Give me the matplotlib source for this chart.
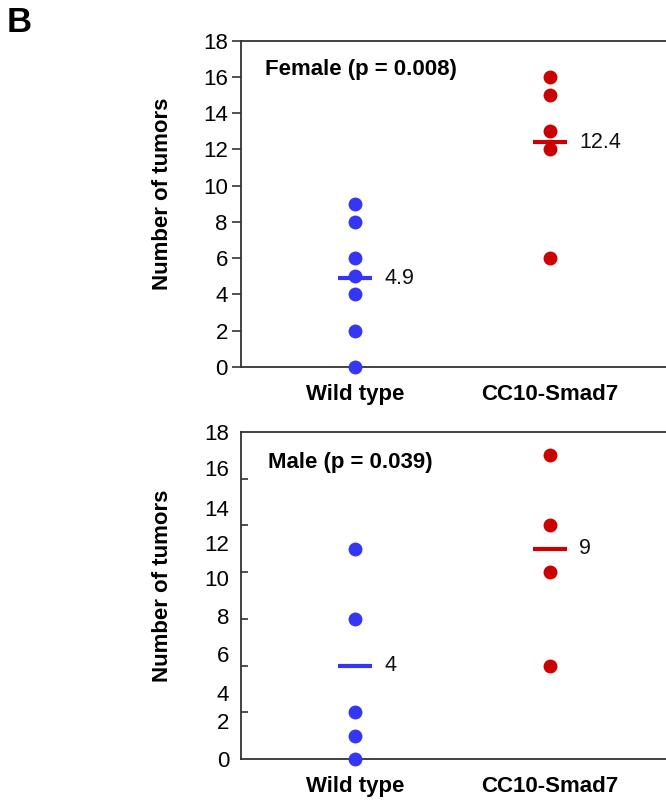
import matplotlib
matplotlib.use("Agg")
import matplotlib.pyplot as plt
import numpy as np

plt.rcParams['font.family'] = ['Liberation Sans', 'DejaVu Sans']

groups = ["Wild type", "CC10-Smad7"]

# Female panel
female_wt = [0, 2, 4, 5, 6, 8, 9]
female_cc10 = [6, 12, 13, 15, 16]
female_means = [4.9, 12.4]
female_mean_labels = ["4.9", "12.4"]
female_title = "Female (p = 0.008)"
female_yticks = [0, 2, 4, 6, 8, 10, 12, 14, 16, 18]

# Male panel (axis drawn on a 0-14 scale, labelled 0-18 as in the original)
male_wt = [0, 1, 2, 6, 9]
male_cc10 = [4, 8, 10, 13]
male_means = [4, 9]
male_mean_labels = ["4", "9"]
male_title = "Male (p = 0.039)"
male_tick_marks = [0, 2, 4, 6, 8, 10, 12, 14]
male_ytick_labels = ["0", "2", "4", "6", "8", "10", "12", "14", "16", "18"]
male_ytick_label_pos = [0, 1.63, 2.83, 4.51, 6.14, 7.77, 9.23, 10.73, 12.45, 14]

blue = "#3535f5"
red = "#cc0000"
spine_col = "#333333"

W, H = 666, 802
fig = plt.figure(figsize=(W / 100, H / 100), dpi=100)

def px_axes(left, top, right, bottom):
    return fig.add_axes([left / W, 1 - bottom / H, (right - left) / W, (bottom - top) / H])

ax1 = px_axes(241, 40.7, 666, 367)
ax2 = px_axes(241, 432, 666, 759)

xlim = (0.4154, 2.595)

def draw(ax, wt, cc, means, mlabels, title, title_xy):
    ax.plot(np.ones(len(wt)), wt, 'o', color=blue, markersize=10, markeredgewidth=0, clip_on=False, zorder=3)
    ax.plot(np.full(len(cc), 2), cc, 'o', color=red, markersize=10, markeredgewidth=0, clip_on=False, zorder=3)
    for xi, (m, lab, col) in enumerate(zip(means, mlabels, [blue, red]), start=1):
        ax.plot([xi - 0.085, xi + 0.085], [m, m], color=col, linewidth=3, solid_capstyle='butt', zorder=4)
        ax.text(xi + 0.15, m, lab, fontsize=15.5, va='center', ha='left', color='#111111')
    ax.set_xlim(*xlim)
    ax.set_xticks([1, 2])
    ax.set_xticklabels(groups, fontsize=16, fontweight='bold')
    ax.tick_params(axis='x', length=0, pad=12)
    for s in ['left', 'bottom', 'top']:
        ax.spines[s].set_color(spine_col)
        ax.spines[s].set_linewidth(1.3)
    ax.spines['right'].set_visible(False)
    ax.set_ylabel("Number of tumors", fontsize=16, fontweight='bold')
    ax.yaxis.set_label_coords(-0.16, 0.53)
    ax.text(title_xy[0], title_xy[1], title, transform=ax.transAxes, fontsize=16,
            fontweight='bold', ha='left', va='center')

draw(ax1, female_wt, female_cc10, female_means, female_mean_labels, female_title, (0.0565, 0.913))
ax1.set_ylim(0, 18)
ax1.set_yticks(female_yticks)
ax1.set_yticklabels([str(v) for v in female_yticks], fontsize=16)
ax1.tick_params(axis='y', direction='out', length=6.5, width=1.2, color=spine_col, pad=3)

draw(ax2, male_wt, male_cc10, male_means, male_mean_labels, male_title, (0.0635, 0.908))
ax2.set_ylim(0, 14)
ax2.set_yticks(male_ytick_label_pos)
ax2.set_yticklabels(male_ytick_labels, fontsize=16)
ax2.tick_params(axis='y', which='major', length=0, pad=8.5)
ax2.set_yticks(male_tick_marks, minor=True)
ax2.tick_params(axis='y', which='minor', direction='in', length=5, width=1.2, color=spine_col)

fig.text(7 / W, 1 - 22 / H, "B", fontsize=25, fontweight='bold', ha='left', va='center')

fig.savefig("out.png", dpi=100)
